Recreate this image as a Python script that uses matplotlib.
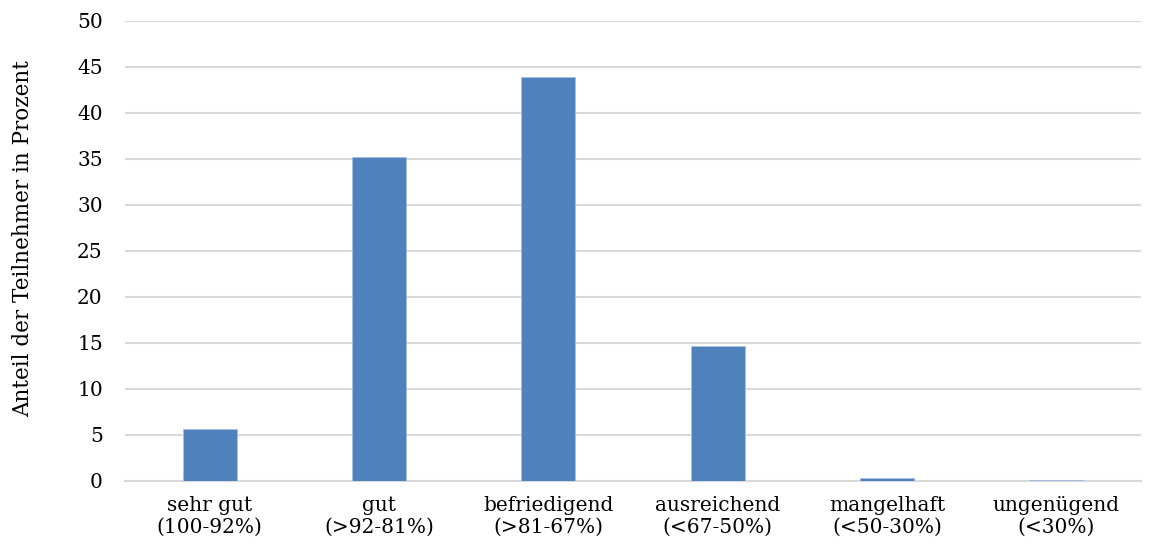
import matplotlib
matplotlib.use("Agg")
import matplotlib.pyplot as plt

categories = ["sehr gut\n(100-92%)", "gut\n(>92-81%)", "befriedigend\n(>81-67%)",
              "ausreichend\n(<67-50%)", "mangelhaft\n(<50-30%)", "ungenügend\n(<30%)"]
values = [5.65, 35.2, 43.9, 14.7, 0.3, 0.15]
y_ticks = [0, 5, 10, 15, 20, 25, 30, 35, 40, 45, 50]

plt.rcParams["font.family"] = ["DejaVu Serif"]

fig = plt.figure(figsize=(11.51, 5.53), dpi=100)
ax = fig.add_axes([125 / 1151, 1 - 481 / 553, (1141 - 125) / 1151, 460 / 553])

x = range(len(categories))
ax.bar(x, values, width=0.32, color="#4F81BD", edgecolor="#a9bfdf", linewidth=0.6, zorder=3)

ax.set_xlim(-0.5, len(categories) - 0.5)
ax.set_ylim(0, 50)
ax.set_yticks(y_ticks)
ax.set_xticks(list(x))
ax.set_xticklabels(categories, fontsize=14.5, linespacing=1.15)
ax.tick_params(axis="y", labelsize=14.5, length=0, pad=16)
ax.tick_params(axis="x", length=0, pad=11)
ax.grid(axis="y", color="#d9d9d9", linewidth=1.5, zorder=0)
for s in ["top", "right", "left"]:
    ax.spines[s].set_visible(False)
ax.spines["bottom"].set_color("#d9d9d9")
ax.spines["bottom"].set_linewidth(1.5)
ax.set_ylabel("Anteil der Teilnehmer in Prozent", fontsize=15.5)
ax.yaxis.set_label_coords(-0.089, 0.527)

fig.savefig("out.png", dpi=100)
